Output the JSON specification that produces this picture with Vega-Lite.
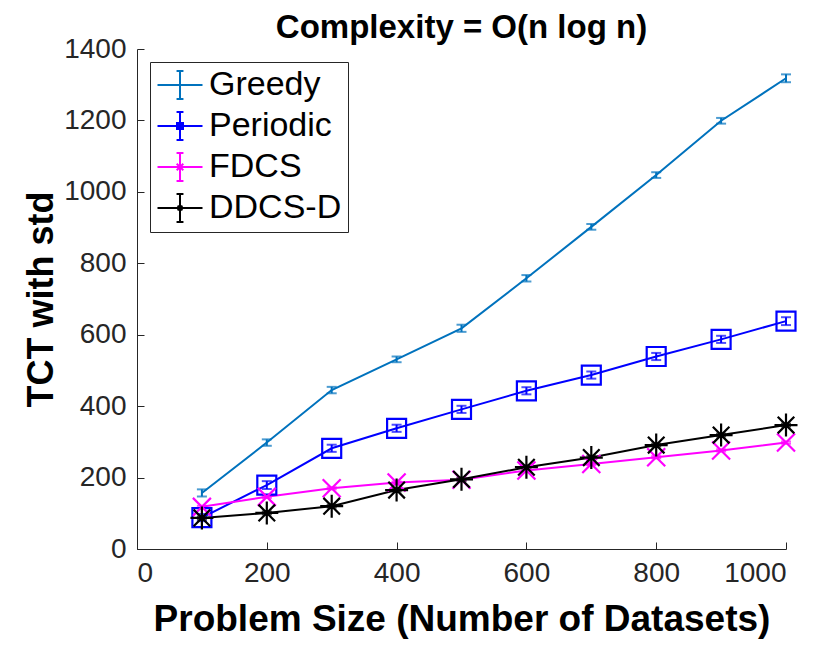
{
  "$schema": "https://vega.github.io/schema/vega-lite/v6.json",
  "width": 649,
  "height": 500,
  "autosize": {"type": "none"},
  "padding": {"left": 137, "top": 49, "right": 39, "bottom": 99},
  "background": "white",
  "config": {
    "view": {"stroke": null},
    "font": "Liberation Sans",
    "axis": {
      "domainColor": "#262626",
      "domainWidth": 1,
      "tickColor": "#262626",
      "tickWidth": 1,
      "tickSize": -7,
      "grid": false,
      "format": "d",
      "labelFont": "Liberation Sans",
      "labelFontSize": 28,
      "labelColor": "#262626",
      "titleFont": "Liberation Sans",
      "titleFontWeight": "bold",
      "titleColor": "black"
    }
  },
  "title": {
    "text": "Complexity = O(n log n)",
    "font": "Liberation Sans",
    "fontSize": 33,
    "fontWeight": "bold",
    "color": "black",
    "frame": "group",
    "offset": -10
  },
  "data": {
    "values": [
      {"series": "Greedy", "size": 100, "mean": 157, "std": 10},
      {"series": "Greedy", "size": 200, "mean": 298, "std": 9},
      {"series": "Greedy", "size": 300, "mean": 445, "std": 9},
      {"series": "Greedy", "size": 400, "mean": 531, "std": 8},
      {"series": "Greedy", "size": 500, "mean": 618, "std": 10},
      {"series": "Greedy", "size": 600, "mean": 758, "std": 9},
      {"series": "Greedy", "size": 700, "mean": 902, "std": 8},
      {"series": "Greedy", "size": 800, "mean": 1047, "std": 8},
      {"series": "Greedy", "size": 900, "mean": 1199, "std": 8},
      {"series": "Greedy", "size": 1000, "mean": 1318, "std": 11},
      {"series": "Periodic", "size": 100, "mean": 88, "std": 10},
      {"series": "Periodic", "size": 200, "mean": 179, "std": 11},
      {"series": "Periodic", "size": 300, "mean": 282, "std": 10},
      {"series": "Periodic", "size": 400, "mean": 338, "std": 10},
      {"series": "Periodic", "size": 500, "mean": 391, "std": 10},
      {"series": "Periodic", "size": 600, "mean": 443, "std": 10},
      {"series": "Periodic", "size": 700, "mean": 487, "std": 10},
      {"series": "Periodic", "size": 800, "mean": 539, "std": 10},
      {"series": "Periodic", "size": 900, "mean": 587, "std": 10},
      {"series": "Periodic", "size": 1000, "mean": 638, "std": 11},
      {"series": "FDCS", "size": 100, "mean": 118, "std": 3},
      {"series": "FDCS", "size": 200, "mean": 146, "std": 3},
      {"series": "FDCS", "size": 300, "mean": 170, "std": 3},
      {"series": "FDCS", "size": 400, "mean": 186, "std": 3},
      {"series": "FDCS", "size": 500, "mean": 194, "std": 3},
      {"series": "FDCS", "size": 600, "mean": 220, "std": 3},
      {"series": "FDCS", "size": 700, "mean": 238, "std": 3},
      {"series": "FDCS", "size": 800, "mean": 257, "std": 3},
      {"series": "FDCS", "size": 900, "mean": 276, "std": 3},
      {"series": "FDCS", "size": 1000, "mean": 298, "std": 3},
      {"series": "DDCS-D", "size": 100, "mean": 87, "std": 4},
      {"series": "DDCS-D", "size": 200, "mean": 101, "std": 4},
      {"series": "DDCS-D", "size": 300, "mean": 120, "std": 4},
      {"series": "DDCS-D", "size": 400, "mean": 165, "std": 4},
      {"series": "DDCS-D", "size": 500, "mean": 195, "std": 4},
      {"series": "DDCS-D", "size": 600, "mean": 229, "std": 4},
      {"series": "DDCS-D", "size": 700, "mean": 256, "std": 4},
      {"series": "DDCS-D", "size": 800, "mean": 291, "std": 4},
      {"series": "DDCS-D", "size": 900, "mean": 319, "std": 4},
      {"series": "DDCS-D", "size": 1000, "mean": 347, "std": 4}
    ]
  },
  "encoding": {
    "x": {
      "field": "size",
      "type": "quantitative",
      "scale": {"domain": [0, 1000], "nice": false, "zero": false},
      "axis": {
        "title": "Problem Size (Number of Datasets)",
        "titleFontSize": 37,
        "values": [0, 200, 400, 600, 800, 1000],
        "labelPadding": 17,
        "titlePadding": 14
      }
    },
    "y": {
      "field": "mean",
      "type": "quantitative",
      "scale": {"domain": [0, 1400], "nice": false},
      "axis": {
        "title": "TCT with std",
        "titleFontSize": 36,
        "values": [0, 200, 400, 600, 800, 1000, 1200, 1400],
        "labelPadding": 18,
        "titlePadding": 3
      }
    },
    "color": {
      "field": "series",
      "type": "nominal",
      "scale": {
        "domain": ["Greedy", "Periodic", "FDCS", "DDCS-D"],
        "range": ["#0072BD", "#0000FF", "#FF00FF", "#000000"]
      },
      "legend": {
        "title": null,
        "orient": "top-left",
        "offset": 13,
        "padding": 6,
        "fillColor": "white",
        "strokeColor": "#262626",
        "labelFont": "Liberation Sans",
        "labelFontSize": 34,
        "labelColor": "black",
        "labelOffset": 12,
        "symbolSize": 900,
        "symbolOffset": 7,
        "symbolStrokeWidth": 2,
        "symbolFillColor": "transparent",
        "rowPadding": 5,
        "symbolType": "M-1.5,0H1.5M0,-0.93V0.93M-0.23,-0.93H0.23M-0.23,0.93H0.23",
        "encode": {
          "symbols": {
            "update": {
              "shape": {
                "signal": "datum.value === 'Periodic' ? 'M-1.5,0H1.5M0,-0.93V0.93M-0.23,-0.93H0.23M-0.23,0.93H0.23M-0.2,-0.2H0.2V0.2H-0.2Z' : datum.value === 'FDCS' ? 'M-1.5,0H1.5M0,-0.93V0.93M-0.23,-0.93H0.23M-0.23,0.93H0.23M-0.22,-0.22L0.22,0.22M-0.22,0.22L0.22,-0.22' : datum.value === 'DDCS-D' ? 'M-1.5,0H1.5M0,-0.93V0.93M-0.23,-0.93H0.23M-0.23,0.93H0.23M-0.22,0H0.22M0,-0.22V0.22M-0.16,-0.16L0.16,0.16M-0.16,0.16L0.16,-0.16' : 'M-1.5,0H1.5M0,-0.93V0.93M-0.23,-0.93H0.23M-0.23,0.93H0.23'"
              },
              "fill": {"value": "transparent"},
              "strokeWidth": {"value": 2}
            }
          }
        }
      }
    }
  },
  "layer": [
    {
      "mark": {"type": "errorbar", "ticks": {"size": 10}, "thickness": 2},
      "encoding": {
        "yError": {"field": "std"}
      }
    },
    {
      "mark": {"type": "line", "strokeWidth": 2}
    },
    {
      "transform": [{"filter": "datum.series === 'Periodic'"}],
      "mark": {"type": "point", "shape": "square", "size": 361, "filled": false, "strokeWidth": 2.2, "opacity": 1},
      "encoding": {"color": {"value": "#0000FF"}}
    },
    {
      "transform": [{"filter": "datum.series === 'FDCS'"}],
      "mark": {"type": "point", "shape": "M-1,-1L1,1M-1,1L1,-1", "size": 324, "filled": false, "strokeWidth": 2.2, "opacity": 1},
      "encoding": {"color": {"value": "#FF00FF"}}
    },
    {
      "transform": [{"filter": "datum.series === 'DDCS-D'"}],
      "mark": {"type": "point", "shape": "M-1,0H1M0,-1V1M-0.72,-0.72L0.72,0.72M-0.72,0.72L0.72,-0.72", "size": 529, "filled": false, "strokeWidth": 2.2, "opacity": 1},
      "encoding": {"color": {"value": "#000000"}}
    }
  ]
}
